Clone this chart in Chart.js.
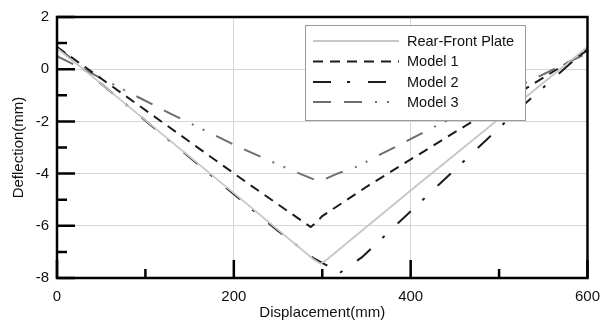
<!DOCTYPE html>
<html>
<head>
<meta charset="utf-8">
<script src="https://cdn.jsdelivr.net/npm/chart.js@4/dist/chart.umd.min.js"></script>
<style>
html,body{margin:0;padding:0;background:#fff;}
#wrap{width:610px;height:322px;position:relative;}
</style>
</head>
<body>
<div id="wrap"><canvas id="c" width="610" height="322"></canvas></div>
<script>
// ---- data ----
const seriesNames = ['Rear-Front Plate', 'Model 1', 'Model 2', 'Model 3'];

const rearX = [0, 28, 200, 290, 298, 305, 400, 600];
const rearY = [0.8, 0.05, -4.75, -7.28, -7.45, -7.3, -4.65, 0.85];

const model1X = [0, 217, 287, 293, 300, 353, 537, 600];
const model1Y = [0.85, -4.4, -6.05, -5.88, -5.63, -4.44, -0.6, 0.72];

const model2X = [0, 250, 291, 308, 318, 345, 448, 530, 600];
const model2Y = [0.85, -6.2, -7.26, -7.57, -7.85, -7.2, -3.91, -1.3, 0.8];

const model3X = [0, 30, 127, 203, 240, 270, 294, 298, 317, 338, 432, 600];
const model3Y = [0.5, 0.0, -1.68, -2.94, -3.5, -3.94, -4.27, -4.29, -4.0, -3.75, -2.12, 0.62];

const xTicks = [0, 200, 400, 600];
const xMinorTicks = [100, 300, 500];
const yTicks = [-8, -6, -4, -2, 0, 2];
const yMinorTicks = [-7, -5, -3, -1, 1];

const xTitle = 'Displacement(mm)';
const yTitle = 'Deflection(mm)';

function pts(xs, ys){ return xs.map((x,i)=>({x:x, y:ys[i]})); }

const FONT = 'Arial, "Liberation Sans", sans-serif';

const styles = [
  {color:'#c6c6c6', width:1.8, dash:[]},
  {color:'#1c1c1c', width:2, dash:[10,7]},
  {color:'#1c1c1c', width:2, dash:[18,16,3,18]},
  {color:'#6e6e6e', width:2, dash:[18,13,18,13,2,10,2,13]}
];
const allX = [rearX, model1X, model2X, model3X];
const allY = [rearY, model1Y, model2Y, model3Y];

const datasets = seriesNames.map((n,i)=>({
  label:n,
  data:pts(allX[i], allY[i]),
  borderColor:styles[i].color,
  borderWidth:styles[i].width,
  borderDash:styles[i].dash,
  pointRadius:0,
  tension:0,
  fill:false
}));

const framePlugin = {
  id:'frame',
  afterDraw(chart){
    const ctx = chart.ctx, a = chart.chartArea;
    const xs = chart.scales.x, ys = chart.scales.y;
    ctx.save();
    ctx.strokeStyle = '#000';
    ctx.lineWidth = 2.5;
    ctx.setLineDash([]);
    ctx.beginPath();
    xTicks.forEach(v=>{ const p = xs.getPixelForValue(v); ctx.moveTo(p, a.bottom); ctx.lineTo(p, a.bottom-18); });
    xMinorTicks.forEach(v=>{ const p = xs.getPixelForValue(v); ctx.moveTo(p, a.bottom); ctx.lineTo(p, a.bottom-9); });
    yTicks.forEach(v=>{ const p = ys.getPixelForValue(v); ctx.moveTo(a.left, p); ctx.lineTo(a.left+18, p); });
    yMinorTicks.forEach(v=>{ const p = ys.getPixelForValue(v); ctx.moveTo(a.left, p); ctx.lineTo(a.left+10, p); });
    ctx.stroke();
    ctx.strokeRect(a.left, a.top, a.right-a.left, a.bottom-a.top);

    // legend box
    const bx = 305, by = 25, bw = 220, bh = 95;
    ctx.fillStyle = '#fff';
    ctx.fillRect(bx, by, bw, bh);
    ctx.lineWidth = 1;
    ctx.strokeStyle = '#9a9a9a';
    ctx.strokeRect(bx+0.5, by+0.5, bw, bh);
    const rows = [41, 61.5, 82, 102];
    chart.data.datasets.forEach((d,i)=>{
      ctx.beginPath();
      ctx.strokeStyle = d.borderColor;
      ctx.lineWidth = d.borderWidth;
      ctx.setLineDash(d.borderDash);
      ctx.moveTo(313, rows[i]); ctx.lineTo(399, rows[i]);
      ctx.stroke();
      ctx.setLineDash([]);
      ctx.fillStyle = '#111';
      ctx.font = '14.5px ' + FONT;
      ctx.textBaseline = 'middle';
      ctx.textAlign = 'left';
      ctx.fillText(d.label, 407, rows[i]+0.5);
    });
    ctx.restore();
  }
};

new Chart(document.getElementById('c'), {
  type:'line',
  data:{datasets:datasets},
  options:{
    responsive:false,
    animation:false,
    devicePixelRatio:1,
    layout:{padding:{top:12, right:21, left:0, bottom:0}},
    plugins:{legend:{display:false}, tooltip:{enabled:false}},
    scales:{
      x:{
        type:'linear', min:0, max:600,
        afterBuildTicks(s){ s.ticks = xTicks.map(v=>({value:v})); },
        afterFit(s){ s.height = 44; },
        ticks:{color:'#111', font:{size:15, family:FONT}, padding:10, maxRotation:0},
        grid:{color:'#d6d6d6', lineWidth:1, drawTicks:false},
        border:{display:false},
        title:{display:true, text:xTitle, color:'#111', font:{size:15, family:FONT}, padding:{top:0,bottom:0}}
      },
      y:{
        type:'linear', min:-8, max:2,
        afterBuildTicks(s){ s.ticks = yTicks.map(v=>({value:v})); },
        afterFit(s){ s.width = 57; },
        ticks:{color:'#111', font:{size:15, family:FONT}, padding:8},
        grid:{color:'#d6d6d6', lineWidth:1, drawTicks:false},
        border:{display:false},
        title:{display:true, text:yTitle, color:'#111', font:{size:15, family:FONT}, padding:{top:10,bottom:0}}
      }
    }
  },
  plugins:[framePlugin]
});
</script>
</body>
</html>
